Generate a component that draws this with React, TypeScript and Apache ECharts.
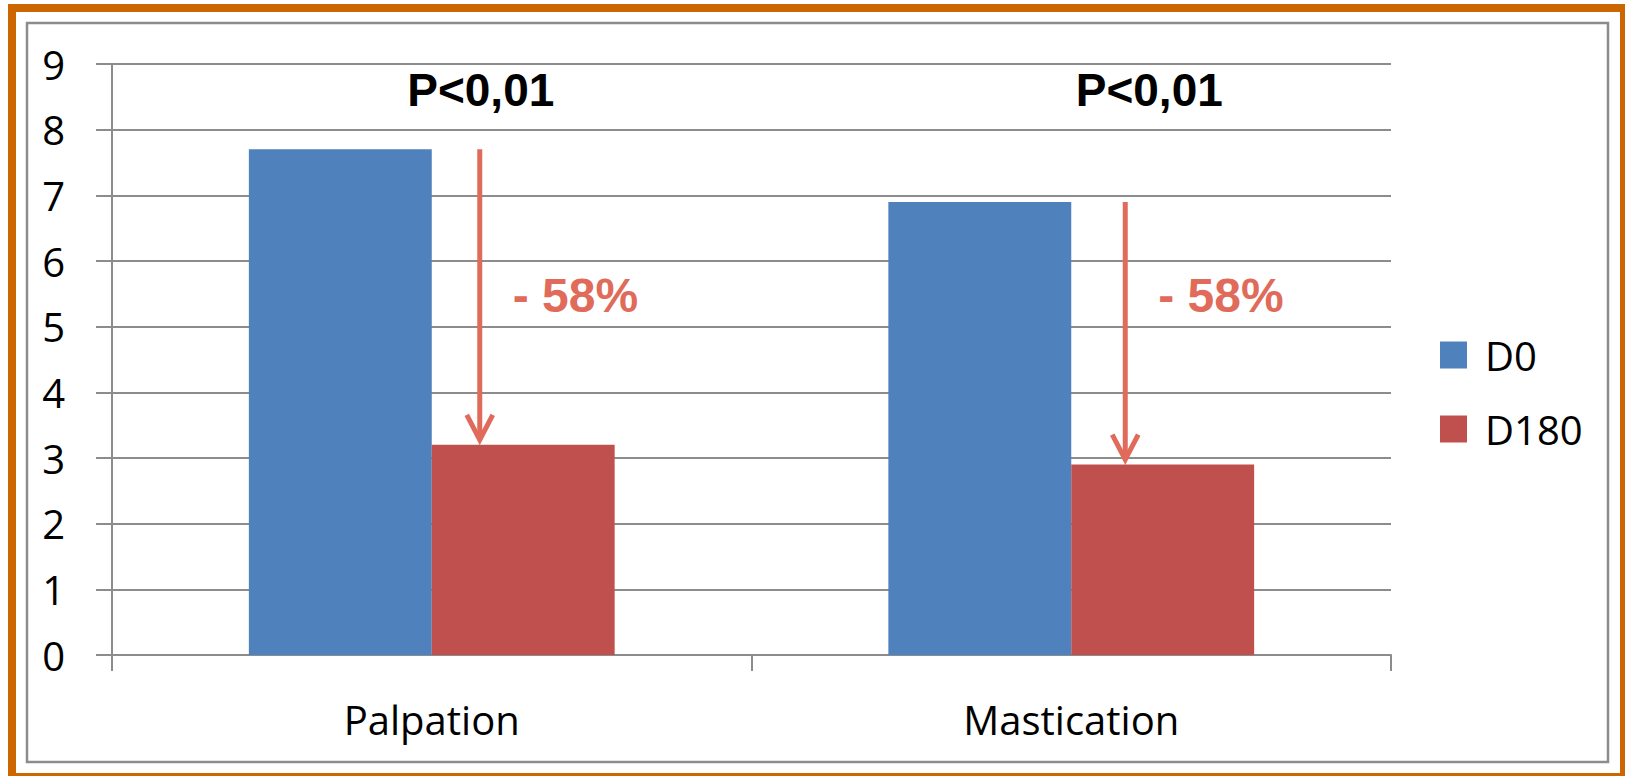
import React, { useEffect, useRef } from "react";
import * as echarts from "echarts";

const categories = ["Palpation", "Mastication"];
const d0Values = [7.7, 6.9];
const d180Values = [3.2, 2.9];
const changeLabels = ["- 58%", "- 58%"];
const pLabels = ["P<0,01", "P<0,01"];
const yTicks = { min: 0, max: 9, interval: 1 };

const GRAY = "#8c8c8c";
const ARROW = "#E06B5B";
const LABEL_FONT = "'Open Sans', 'Noto Sans', sans-serif";
const BOLD_FONT = "'Liberation Sans', Arial, sans-serif";

export default function App() {
  const ref = useRef<HTMLDivElement>(null);
  useEffect(() => {
    if (!ref.current) return;
    const chart = echarts.init(ref.current, null, { renderer: "svg" });
    const arrowOffsets = [48, 54];
    const pOffsets = [49, 78];
    chart.setOption({
      animation: false,
      backgroundColor: "#ffffff",
      graphic: [
        {
          type: "rect",
          shape: { x: 12, y: 8, width: 1612, height: 769 },
          style: { fill: "none", stroke: "#CC6600", lineWidth: 8 },
          silent: true,
        },
        {
          type: "rect",
          shape: { x: 27, y: 23, width: 1581, height: 739 },
          style: { fill: "none", stroke: GRAY, lineWidth: 2.5 },
          silent: true,
        },
      ],
      grid: { left: 112, right: 234, top: 64, bottom: 121, containLabel: false },
      legend: {
        data: ["D0", "D180"],
        orient: "vertical",
        left: 1440,
        top: 335,
        padding: 0,
        itemWidth: 27,
        itemHeight: 27,
        itemGap: 34,
        icon: "rect",
        textStyle: {
          fontSize: 40,
          fontFamily: LABEL_FONT,
          color: "#000",
          padding: [0, 0, 0, 13],
        },
      },
      xAxis: {
        type: "category",
        data: categories,
        axisLine: { show: true, lineStyle: { color: GRAY, width: 2 } },
        axisTick: { show: true, length: 16, alignWithLabel: false, lineStyle: { color: GRAY, width: 2 } },
        axisLabel: { fontSize: 40, fontFamily: LABEL_FONT, color: "#000", margin: 44 },
        splitLine: { show: false },
      },
      yAxis: {
        type: "value",
        min: yTicks.min,
        max: yTicks.max,
        interval: yTicks.interval,
        axisLine: { show: true, lineStyle: { color: GRAY, width: 2 } },
        axisTick: { show: true, length: 16, lineStyle: { color: GRAY, width: 2 } },
        axisLabel: { fontSize: 40, fontFamily: LABEL_FONT, color: "#000", margin: 47 },
        splitLine: { show: true, lineStyle: { color: GRAY, width: 2 } },
      },
      series: [
        {
          name: "D0",
          type: "bar",
          data: d0Values,
          barWidth: "28.6%",
          barGap: "0%",
          itemStyle: { color: "#4F81BD" },
        },
        {
          name: "D180",
          type: "bar",
          data: d180Values,
          barWidth: "28.6%",
          barGap: "0%",
          itemStyle: { color: "#C0504D" },
        },
        {
          name: "annotations",
          type: "custom",
          clip: false,
          silent: true,
          data: categories.map((_, i) => [i, d0Values[i], d180Values[i]]),
          encode: { x: 0, y: [1, 2] },
          renderItem: (params: any, api: any) => {
            const i = api.value(0);
            const top = api.coord([i, api.value(1)]);
            const bottom = api.coord([i, api.value(2)]);
            const x = top[0] + arrowOffsets[params.dataIndex];
            const y1 = top[1];
            const y2 = bottom[1] - 5;
            const textY = api.coord([i, 5.47])[1];
            const pY = api.coord([i, 8.6])[1];
            return {
              type: "group",
              children: [
                {
                  type: "line",
                  shape: { x1: x, y1, x2: x, y2 },
                  style: { stroke: ARROW, lineWidth: 5 },
                },
                {
                  type: "polyline",
                  shape: { points: [[x - 13, y2 - 25], [x, y2], [x + 13, y2 - 25]] },
                  style: { stroke: ARROW, lineWidth: 5, fill: "none", lineJoin: "miter" },
                },
                {
                  type: "text",
                  x: x + 33,
                  y: textY,
                  style: {
                    text: changeLabels[params.dataIndex],
                    font: `bold 48px ${BOLD_FONT}`,
                    fill: ARROW,
                    align: "left",
                    verticalAlign: "middle",
                  },
                },
                {
                  type: "text",
                  x: top[0] + pOffsets[params.dataIndex],
                  y: pY,
                  style: {
                    text: pLabels[params.dataIndex],
                    font: `bold 46px ${BOLD_FONT}`,
                    fill: "#000",
                    align: "center",
                    verticalAlign: "middle",
                  },
                },
              ],
            };
          },
        },
      ],
    });
    return () => chart.dispose();
  }, []);
  return (
    <div
      ref={ref}
      style={{ position: "fixed", left: 0, top: 0, width: 1625, height: 776 }}
    />
  );
}
